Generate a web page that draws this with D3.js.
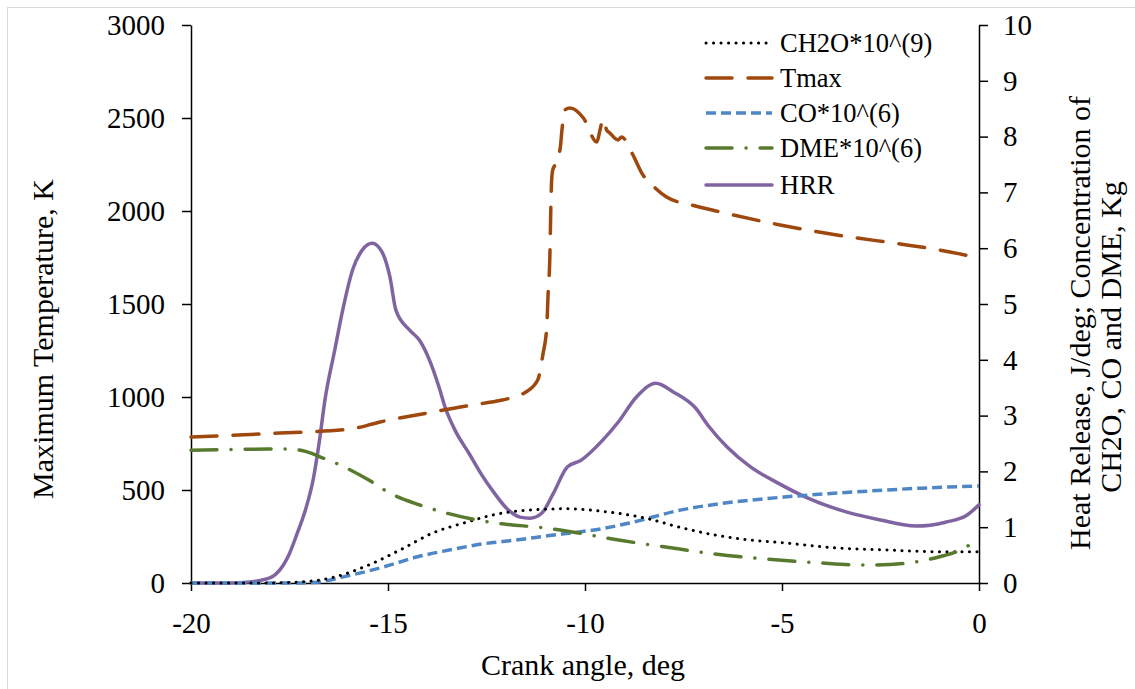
<!DOCTYPE html>
<html>
<head>
<meta charset="utf-8">
<script src="https://d3js.org/d3.v7.min.js"></script>
<style>
  body { margin: 0; background: #fff; }
  text { font-family: "Liberation Serif", "Times New Roman", serif; fill: #000; }
</style>
</head>
<body>
<svg id="chart" width="1135" height="689"></svg>
<script>
// crank angle (deg) and values
var hrrAngle = [-20, -19, -18.5, -18, -17.75, -17.5, -17.3, -17.1, -16.9, -16.75, -16.6, -16.35, -16.15, -15.9, -15.65, -15.4, -15.15, -14.95, -14.8, -14.45, -14.2, -13.95, -13.7, -13.55, -13.3, -12.95, -12.65, -12.3, -11.95, -11.65, -11.4, -11.1, -10.8, -10.45, -10.1, -9.55, -9.15, -8.7, -8.2, -7.75, -7.2, -6.85, -6.4, -5.8, -5.1, -4.4, -3.35, -2.5, -1.6, -0.85, -0.3, 0];
var hrrValue = [0, 0, 0.02, 0.09, 0.23, 0.53, 0.9, 1.3, 1.85, 2.5, 3.28, 4.18, 4.89, 5.61, 5.97, 6.09, 5.93, 5.48, 4.89, 4.53, 4.35, 4.0, 3.5, 3.15, 2.74, 2.33, 1.97, 1.61, 1.31, 1.18, 1.16, 1.25, 1.61, 2.08, 2.2, 2.56, 2.89, 3.33, 3.58, 3.42, 3.14, 2.8, 2.44, 2.08, 1.79, 1.54, 1.27, 1.13, 1.02, 1.09, 1.22, 1.4];

var tmaxAngle = [-20, -17.75, -15.95, -15.2, -14.0, -13.2, -12.55, -12.1, -11.5, -11.2, -11.07, -10.97, -10.94, -10.89, -10.87, -10.85, -10.82, -10.69, -10.62, -10.58, -10.51, -10.38, -10.04, -9.7, -9.62, -9.54, -9.45, -9.37, -9.16, -9.07, -8.81, -8.53, -8.22, -7.93, -7.29, -6.57, -5.05, -3.27, -2.0, -0.74, 0];
var tmaxValue = [785, 806, 828, 866, 914, 945, 967, 984, 1027, 1091, 1226, 1378, 1538, 1774, 1989, 2150, 2220, 2274, 2355, 2446, 2543, 2554, 2500, 2371, 2435, 2495, 2435, 2419, 2382, 2398, 2312, 2194, 2124, 2075, 2032, 1995, 1925, 1860, 1823, 1780, 1747];

var coAngle = [-20, -17.5, -16.9, -15.95, -15.1, -14.25, -13.45, -12.6, -11.75, -10.9, -10.2, -9.6, -8.9, -7.55, -6.25, -4.95, -3.2, -1.45, 0];
var coValue = [0, 0, 0.01, 0.14, 0.29, 0.47, 0.59, 0.7, 0.77, 0.85, 0.91, 0.97, 1.07, 1.31, 1.45, 1.54, 1.63, 1.7, 1.74];

var ch2oAngle = [-20, -18.25, -17.2, -16.4, -15.5, -14.7, -13.85, -13.0, -12.2, -11.35, -10.45, -9.5, -8.45, -7.55, -6.7, -5.8, -4.95, -3.65, -2.3, -1.0, 0];
var ch2oValue = [0, 0, 0.02, 0.1, 0.32, 0.59, 0.9, 1.09, 1.24, 1.31, 1.33, 1.28, 1.16, 0.99, 0.86, 0.77, 0.72, 0.63, 0.59, 0.56, 0.56];

var dmeAngle = [-20, -18, -17.55, -17.05, -16.65, -16.2, -15.5, -14.95, -14.2, -13.5, -12.75, -12.1, -11.05, -10.2, -9.15, -8.0, -6.7, -5.4, -4.05, -2.8, -1.9, -1.0, -0.5, 0];
var dmeValue = [2.38, 2.4, 2.4, 2.35, 2.24, 2.11, 1.85, 1.61, 1.4, 1.25, 1.13, 1.06, 0.99, 0.9, 0.77, 0.65, 0.52, 0.43, 0.36, 0.32, 0.35, 0.47, 0.58, 0.8];

var xTicks = [-20, -15, -10, -5, 0];
var leftTicks = [0, 500, 1000, 1500, 2000, 2500, 3000];
var rightTicks = [0, 1, 2, 3, 4, 5, 6, 7, 8, 9, 10];

var seriesNames = ["CH2O*10^(9)", "Tmax", "CO*10^(6)", "DME*10^(6)", "HRR"];

var svg = d3.select("#chart");

// faint chart border like the spreadsheet export
svg.append("rect")
    .attr("x", 7.5).attr("y", 7.5)
    .attr("width", 1140).attr("height", 700)
    .attr("fill", "none")
    .attr("stroke", "#d9d9d9");

var x = d3.scaleLinear().domain([-20, 0]).range([191, 979]);
var yLeft = d3.scaleLinear().domain([0, 3000]).range([583, 25]);
var yRight = d3.scaleLinear().domain([0, 10]).range([583, 25]);

// plain labels: hyphen minus, no thousands separator
var plain = function(d) { return String(d); };

function styleAxis(g, size) {
    g.select(".domain").attr("stroke", "#000").attr("stroke-width", 1.5);
    g.selectAll(".tick line").attr("stroke", "#000").attr("stroke-width", 1.5);
    g.selectAll(".tick text")
        .style("font-family", "Liberation Serif, serif")
        .style("font-size", size + "px")
        .attr("fill", "#000");
}

var gx = svg.append("g")
    .attr("transform", "translate(0,583)")
    .call(d3.axisBottom(x).tickValues(xTicks).tickFormat(plain).tickSize(8).tickPadding(21).tickSizeOuter(0));
styleAxis(gx, 29);

var gl = svg.append("g")
    .attr("transform", "translate(191,0)")
    .call(d3.axisLeft(yLeft).tickValues(leftTicks).tickFormat(plain).tickSize(9).tickPadding(17).tickSizeOuter(0));
styleAxis(gl, 29);

var gr = svg.append("g")
    .attr("transform", "translate(979,0)")
    .call(d3.axisRight(yRight).tickValues(rightTicks).tickFormat(plain).tickSize(9).tickPadding(15).tickSizeOuter(0));
styleAxis(gr, 29);

// axis titles
svg.append("text")
    .attr("x", 583).attr("y", 675)
    .attr("text-anchor", "middle")
    .style("font-size", "30px")
    .text("Crank angle, deg");

svg.append("text")
    .attr("transform", "translate(53,339) rotate(-90)")
    .attr("text-anchor", "middle")
    .style("font-size", "30px")
    .text("Maximum Temperature, K");

svg.append("text")
    .attr("transform", "translate(1090,323) rotate(-90)")
    .attr("text-anchor", "middle")
    .style("font-size", "30px")
    .text("Heat Release, J/deg; Concentration of");

svg.append("text")
    .attr("transform", "translate(1121,337) rotate(-90)")
    .attr("text-anchor", "middle")
    .style("font-size", "30px")
    .text("CH2O, CO and DME, Kg");

// series
var series = [
    { name: seriesNames[0], xs: ch2oAngle, ys: ch2oValue, scale: yRight, color: "#000000", width: 3, dash: "0.1 7.4", cap: "round" },
    { name: seriesNames[1], xs: tmaxAngle, ys: tmaxValue, scale: yLeft, color: "#9e480e", width: 3.5, dash: "26 16", cap: "round" },
    { name: seriesNames[2], xs: coAngle, ys: coValue, scale: yRight, color: "#4f86c6", width: 3.5, dash: "10 5", cap: "butt" },
    { name: seriesNames[3], xs: dmeAngle, ys: dmeValue, scale: yRight, color: "#587a2e", width: 3.5, dash: "26 14 0.1 14", cap: "round" },
    { name: seriesNames[4], xs: hrrAngle, ys: hrrValue, scale: yRight, color: "#8064a2", width: 3.5, dash: null, cap: "round" }
];

// draw HRR first so the dashed lines sit on top, like the original
var drawOrder = [4, 1, 2, 0, 3];
drawOrder.forEach(function(i) {
    var s = series[i];
    var pts = s.xs.map(function(a, j) { return [a, s.ys[j]]; });
    var line = d3.line()
        .x(function(d) { return x(d[0]); })
        .y(function(d) { return s.scale(d[1]); })
        .curve(d3.curveMonotoneX);
    svg.append("path")
        .datum(pts)
        .attr("fill", "none")
        .attr("stroke", s.color)
        .attr("stroke-width", s.width)
        .attr("stroke-linecap", s.cap)
        .attr("stroke-linejoin", "round")
        .attr("stroke-dasharray", s.dash)
        .attr("d", line);
});

// legend
var legend = svg.append("g");
var legendY = [43, 78, 113, 148, 185];
series.forEach(function(s, i) {
    var row = legend.append("g").attr("transform", "translate(0," + legendY[i] + ")");
    row.append("line")
        .attr("x1", 706).attr("x2", 772)
        .attr("y1", 0).attr("y2", 0)
        .attr("stroke", s.color)
        .attr("stroke-width", s.width)
        .attr("stroke-linecap", s.cap)
        .attr("stroke-dasharray", s.dash);
    row.append("text")
        .attr("x", 780).attr("y", 9)
        .style("font-size", "26.5px")
        .text(s.name);
});
</script>
</body>
</html>
